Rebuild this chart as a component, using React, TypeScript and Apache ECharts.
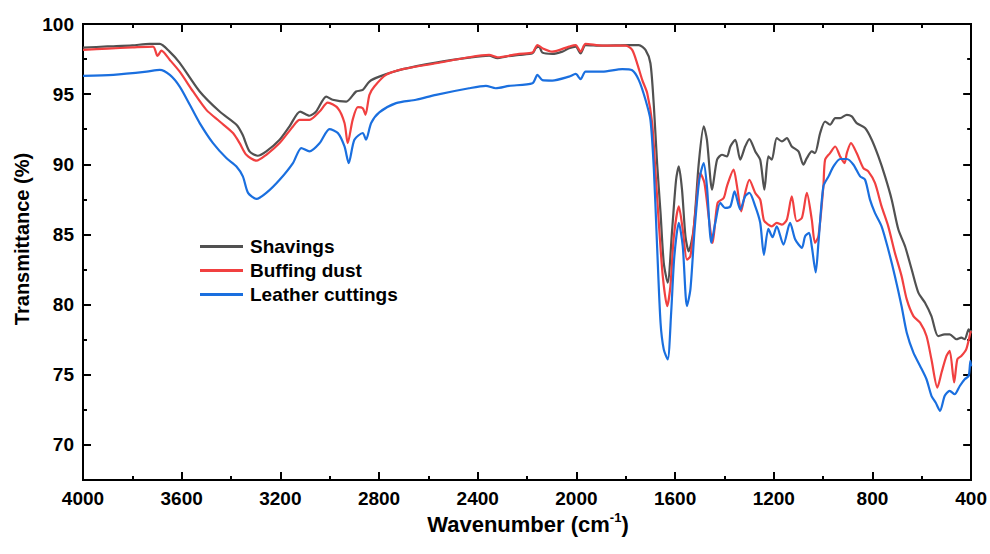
import React, { useEffect, useRef } from "react";
import * as echarts from "echarts";

const FONT = "'Liberation Sans', Arial, Helvetica, sans-serif";

const seriesNames = ["Shavings", "Buffing dust", "Leather cuttings"];
const seriesColors = ["#515151", "#F14040", "#1A6FDF"];

const xMajorTicks = [4000, 3600, 3200, 2800, 2400, 2000, 1600, 1200, 800, 400];
const xMinorTicks = [3800, 3400, 3000, 2600, 2200, 1800, 1400, 1000, 600];
const yMajorTicks = [70, 75, 80, 85, 90, 95, 100];
const yMinorTicks = [67.5, 72.5, 77.5, 82.5, 87.5, 92.5, 97.5];

const shavingsWn = [
  4000, 3900, 3800, 3730, 3689, 3650, 3608, 3527, 3446, 3378, 3353, 3325, 3292, 3257, 3203, 3163, 3120, 3082, 3055, 3014,
  2988, 2933, 2893, 2866, 2839, 2799, 2704, 2569, 2435, 2354, 2320, 2286, 2232, 2178, 2165, 2151, 2138, 2098, 2057, 2030,
  2003, 1983, 1963, 1895, 1787, 1747, 1720, 1700, 1686, 1673, 1659, 1646, 1630, 1612, 1596, 1585, 1572, 1558, 1545, 1525,
  1504, 1484, 1471, 1450, 1430, 1410, 1390, 1376, 1356, 1336, 1316, 1299, 1275, 1255, 1238, 1222, 1208, 1188, 1167, 1147,
  1127, 1100, 1080, 1066, 1046, 1033, 1012, 992, 972, 951, 931, 904, 884, 864, 830, 803, 776, 749, 722, 695,
  668, 641, 614, 587, 561, 534, 507, 487, 460, 440, 426, 410, 403, 400,
];
const shavingsT = [
  98.31, 98.4, 98.48, 98.58, 98.58, 98.05, 97.23, 95.19, 93.76, 92.82, 92.1, 90.92, 90.61, 90.92, 91.75, 92.7, 93.76, 93.46, 93.76, 94.83,
  94.6, 94.47, 95.19, 95.3, 95.9, 96.25, 96.78, 97.25, 97.6, 97.75, 97.56, 97.68, 97.8, 97.91, 98.27, 98.39, 97.96, 97.87, 98.03, 98.27,
  98.39, 97.91, 98.5, 98.46, 98.5, 98.5, 98.15, 97.2, 94.12, 90.09, 86.54, 82.98, 81.56, 85.35, 88.9, 89.85, 88.19, 84.87, 83.8, 85.35,
  90.09, 92.7, 91.75, 88.19, 90.33, 90.68, 90.56, 91.27, 91.75, 90.33, 91.27, 91.8, 90.92, 90.33, 88.19, 90.56, 90.33, 91.87, 91.63, 91.87,
  91.27, 90.92, 89.97, 90.44, 90.92, 90.8, 92.23, 93.05, 92.82, 93.29, 93.29, 93.53, 93.41, 92.94, 92.58, 91.75, 90.56, 89.14, 87.48, 85.35,
  84.16, 82.5, 80.85, 80.13, 79.18, 77.76, 77.88, 77.88, 77.53, 77.65, 77.53, 78.24, 78.0, 78.2,
];

const buffingWn = [
  4000, 3900, 3800, 3716, 3698, 3682, 3648, 3608, 3554, 3500, 3446, 3392, 3365, 3338, 3297, 3257, 3203, 3149, 3122, 3082,
  3041, 3008, 2967, 2940, 2927, 2907, 2886, 2866, 2855, 2839, 2819, 2772, 2704, 2569, 2435, 2354, 2320, 2232, 2178, 2158,
  2138, 2098, 2030, 2003, 1983, 1963, 1895, 1800, 1774, 1754, 1733, 1713, 1693, 1680, 1666, 1650, 1632, 1619, 1605, 1585,
  1569, 1552, 1538, 1518, 1498, 1481, 1461, 1448, 1428, 1403, 1390, 1363, 1349, 1332, 1316, 1299, 1275, 1255, 1240, 1222,
  1208, 1188, 1167, 1147, 1127, 1107, 1086, 1066, 1046, 1033, 1019, 999, 992, 972, 951, 931, 913, 904, 887, 864,
  837, 817, 790, 763, 736, 709, 682, 661, 634, 607, 581, 561, 537, 520, 500, 487, 469, 456, 440, 420,
  403, 400,
];
const buffingT = [
  98.15, 98.25, 98.33, 98.39, 97.72, 98.1, 97.44, 96.6, 95.19, 93.88, 93.05, 92.23, 91.51, 90.68, 90.26, 90.68, 91.51, 92.7, 93.17, 93.17,
  93.76, 94.4, 94.0, 92.94, 91.51, 93.17, 94.07, 94.0, 93.53, 94.95, 95.54, 96.37, 96.78, 97.2, 97.63, 97.8, 97.63, 97.87, 97.96, 98.5,
  98.27, 98.03, 98.39, 98.5, 98.03, 98.58, 98.46, 98.46, 98.15, 97.2, 96.0, 95.07, 92.94, 89.6, 85.83, 82.03, 79.89, 81.32, 84.87, 87.0,
  85.35, 83.21, 83.45, 86.54, 89.38, 88.67, 85.83, 84.4, 87.25, 87.6, 88.43, 89.62, 88.43, 86.65, 87.96, 88.9, 87.96, 87.48, 86.0, 85.7,
  85.58, 85.83, 85.7, 86.06, 87.72, 85.94, 86.18, 87.96, 86.06, 84.4, 84.87, 88.43, 90.33, 90.8, 91.27, 90.56, 90.09, 90.8, 91.51, 90.8,
  89.73, 89.5, 88.67, 87.0, 85.58, 83.69, 82.03, 80.37, 79.18, 78.71, 77.76, 76.1, 74.09, 75.16, 76.34, 76.7, 74.45, 76.1, 76.34, 76.81,
  78.0, 78.1,
];

const leatherWn = [
  4000, 3877, 3742, 3689, 3648, 3608, 3567, 3527, 3473, 3419, 3378, 3352, 3331, 3297, 3257, 3203, 3149, 3115, 3082, 3041,
  3001, 2967, 2940, 2923, 2900, 2866, 2853, 2832, 2799, 2731, 2650, 2569, 2435, 2367, 2327, 2273, 2178, 2158, 2138, 2098,
  2030, 2003, 1983, 1963, 1895, 1814, 1774, 1747, 1720, 1700, 1686, 1673, 1659, 1646, 1630, 1616, 1603, 1585, 1569, 1552,
  1538, 1521, 1502, 1484, 1471, 1453, 1437, 1417, 1397, 1376, 1359, 1336, 1316, 1299, 1275, 1255, 1240, 1222, 1205, 1188,
  1161, 1134, 1113, 1086, 1073, 1057, 1046, 1030, 1019, 999, 978, 958, 931, 904, 877, 850, 830, 810, 790, 763,
  736, 709, 682, 661, 634, 607, 581, 561, 544, 526, 507, 487, 467, 446, 426, 410, 403, 400,
];
const leatherT = [
  96.3, 96.37, 96.6, 96.73, 96.37, 95.54, 94.24, 92.94, 91.51, 90.45, 89.85, 89.14, 87.96, 87.53, 87.96, 88.9, 90.09, 91.16, 90.92, 91.51,
  92.51, 92.23, 91.27, 90.09, 91.75, 92.23, 91.75, 92.94, 93.7, 94.36, 94.6, 94.95, 95.42, 95.59, 95.42, 95.59, 95.78, 96.37, 96.0, 95.97,
  96.25, 96.44, 96.07, 96.6, 96.6, 96.78, 96.7, 96.0, 94.6, 93.17, 89.62, 84.16, 78.71, 76.81, 76.1, 79.42, 83.45, 85.83, 84.16, 79.89,
  81.08, 85.35, 88.9, 90.09, 88.43, 84.4, 85.83, 87.25, 86.89, 87.0, 88.07, 86.77, 87.72, 87.96, 87.0, 85.83, 83.55, 85.4, 84.8, 85.58,
  84.28, 85.83, 84.64, 84.05, 84.87, 85.11, 84.16, 82.3, 84.4, 88.43, 89.14, 89.85, 90.38, 90.38, 89.97, 89.14, 88.9, 87.48, 86.54, 85.58,
  83.93, 82.03, 79.89, 78.0, 76.58, 75.63, 74.68, 73.5, 73.02, 72.43, 73.5, 73.85, 73.61, 74.2, 74.68, 74.92, 76.0, 75.6,
];

const seriesWn = [shavingsWn, buffingWn, leatherWn];
const seriesT = [shavingsT, buffingT, leatherT];

const plainLabel = (v: number) => String(v);

function xAxisDef(position: "bottom" | "top", ticks: number[], len: number, labels: boolean) {
  return {
    type: "value",
    position,
    min: 400,
    max: 4000,
    inverse: true,
    axisLine: { show: true, onZero: false, lineStyle: { color: "#000", width: 2 } },
    axisTick: { show: true, inside: true, length: len, customValues: ticks, lineStyle: { color: "#000", width: 2 } },
    axisLabel: labels
      ? {
          show: true,
          customValues: ticks,
          formatter: plainLabel,
          margin: 9,
          color: "#000",
          fontSize: 19,
          fontWeight: "bold",
          fontFamily: FONT,
        }
      : { show: false },
    splitLine: { show: false },
  };
}

function yAxisDef(position: "left" | "right", ticks: number[], len: number, labels: boolean) {
  return {
    type: "value",
    position,
    min: 67.5,
    max: 100,
    axisLine: { show: true, onZero: false, lineStyle: { color: "#000", width: 2 } },
    axisTick: { show: true, inside: true, length: len, customValues: ticks, lineStyle: { color: "#000", width: 2 } },
    axisLabel: labels
      ? {
          show: true,
          customValues: ticks,
          formatter: plainLabel,
          margin: 9,
          color: "#000",
          fontSize: 19,
          fontWeight: "bold",
          fontFamily: FONT,
        }
      : { show: false },
    splitLine: { show: false },
  };
}

export default function App() {
  const ref = useRef<HTMLDivElement>(null);
  useEffect(() => {
    document.body.style.margin = "0";
    if (!ref.current) return;
    const chart = echarts.init(ref.current, undefined, { renderer: "svg" });
    const series = seriesNames.map((name, i) => ({
      name,
      type: "line",
      xAxisIndex: 0,
      yAxisIndex: 0,
      showSymbol: false,
      symbol: "none",
      smooth: 0.25,
      lineStyle: { color: seriesColors[i], width: 2.2 },
      itemStyle: { color: seriesColors[i] },
      data: seriesWn[i].map((w, j) => [w, seriesT[i][j]]),
    }));
    chart.setOption({
      animation: false,
      backgroundColor: "#fff",
      grid: { left: 83, right: 17, top: 24, bottom: 74, containLabel: false },
      xAxis: [
        xAxisDef("bottom", xMajorTicks, 8, true),
        xAxisDef("bottom", xMinorTicks, 4, false),
        xAxisDef("top", xMajorTicks, 8, false),
        xAxisDef("top", xMinorTicks, 4, false),
      ],
      yAxis: [
        yAxisDef("left", yMajorTicks, 8, true),
        yAxisDef("left", yMinorTicks, 4, false),
        yAxisDef("right", yMajorTicks, 8, false),
        yAxisDef("right", yMinorTicks, 4, false),
      ],
      legend: {
        data: seriesNames.map((name, i) => ({ name, itemStyle: { color: seriesColors[i] } })),
        orient: "vertical",
        left: 200,
        top: 237,
        padding: 0,
        icon: "rect",
        itemWidth: 43,
        itemHeight: 3,
        itemGap: 5,
        textStyle: { color: "#000", fontSize: 19, fontWeight: "bold", fontFamily: FONT, padding: [0, 0, 0, 2] },
      },
      graphic: [
        {
          type: "text",
          x: 22,
          y: 239,
          rotation: Math.PI / 2,
          style: {
            text: "Transmittance (%)",
            fill: "#000",
            fontSize: 20,
            fontWeight: "bold",
            fontFamily: FONT,
            align: "center",
            verticalAlign: "middle",
          },
        },
        {
          type: "text",
          x: 528,
          y: 523,
          style: {
            text: "{a|Wavenumber (cm}{b|-1}{a|)}",
            align: "center",
            verticalAlign: "middle",
            rich: {
              a: { fill: "#000", fontSize: 22, fontWeight: "bold", fontFamily: FONT, lineHeight: 25, verticalAlign: "bottom" },
              b: { fill: "#000", fontSize: 13, fontWeight: "bold", fontFamily: FONT, lineHeight: 13, verticalAlign: "top" },
            },
          },
        },
      ],
      series,
    });
    return () => chart.dispose();
  }, []);
  return <div ref={ref} style={{ width: 990, height: 554 }} />;
}
